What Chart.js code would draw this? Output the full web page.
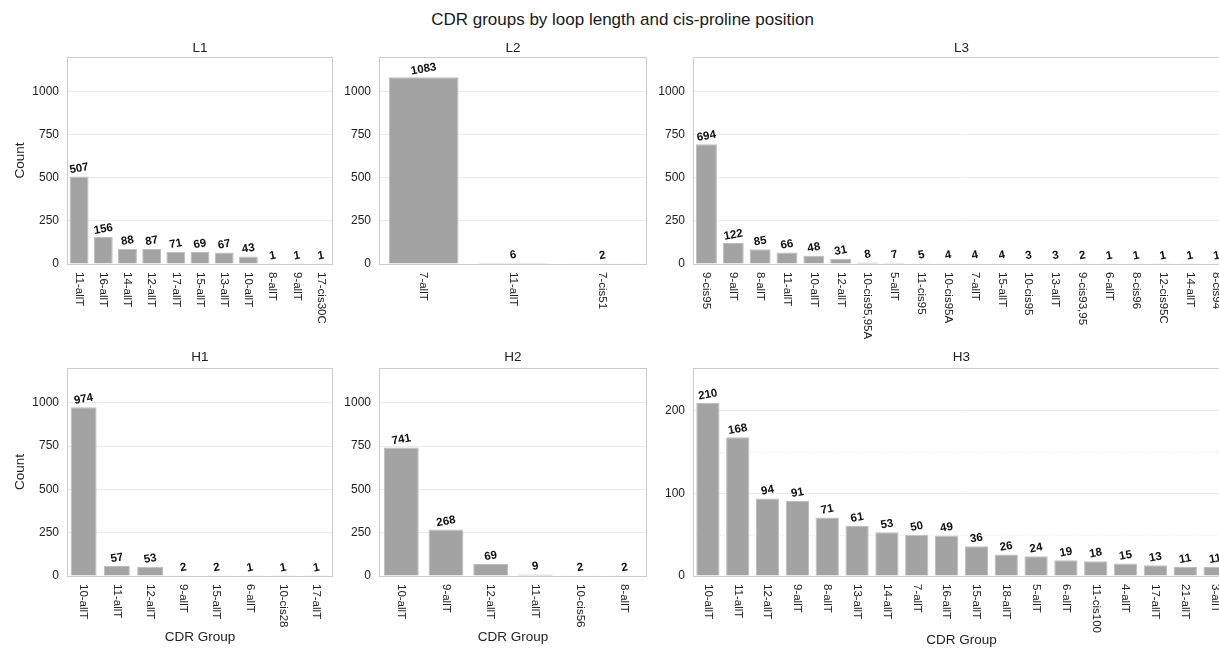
<!DOCTYPE html>
<html>
<head>
<meta charset="utf-8">
<script src="https://cdn.jsdelivr.net/npm/chart.js@4.4.1/dist/chart.umd.min.js"></script>
<style>
  html, body { margin: 0; padding: 0; background: #fff; overflow: hidden; }
  #fig { position: relative; width: 1245px; height: 648px; }
  #fig canvas { position: absolute; }
  #suptitle {
    position: absolute; left: 0; top: 10px; width: 1245px; text-align: center;
    font: 17px "Liberation Sans", Arial, Helvetica, sans-serif; color: #1a1a1a;
  }
</style>
</head>
<body>
<div id="fig">
  <div id="suptitle">CDR groups by loop length and cis-proline position</div>
  <canvas id="l1"></canvas>
  <canvas id="l2"></canvas>
  <canvas id="l3"></canvas>
  <canvas id="h1"></canvas>
  <canvas id="h2"></canvas>
  <canvas id="h3"></canvas>
</div>
<script>
'use strict';

// --- data ---
var l1Groups = ['11-allT', '16-allT', '14-allT', '12-allT', '17-allT', '15-allT', '13-allT', '10-allT', '8-allT', '9-allT', '17-cis30C'];
var l1Counts = [507, 156, 88, 87, 71, 69, 67, 43, 1, 1, 1];

var l2Groups = ['7-allT', '11-allT', '7-cis51'];
var l2Counts = [1083, 6, 2];

var l3Groups = ['9-cis95', '9-allT', '8-allT', '11-allT', '10-allT', '12-allT', '10-cis95,95A', '5-allT', '11-cis95', '10-cis95A',
                '7-allT', '15-allT', '10-cis95', '13-allT', '9-cis93,95', '6-allT', '8-cis96', '12-cis95C', '14-allT', '8-cis94'];
var l3Counts = [694, 122, 85, 66, 48, 31, 8, 7, 5, 4, 4, 4, 3, 3, 2, 1, 1, 1, 1, 1];

var h1Groups = ['10-allT', '11-allT', '12-allT', '9-allT', '15-allT', '6-allT', '10-cis28', '17-allT'];
var h1Counts = [974, 57, 53, 2, 2, 1, 1, 1];

var h2Groups = ['10-allT', '9-allT', '12-allT', '11-allT', '10-cis56', '8-allT'];
var h2Counts = [741, 268, 69, 9, 2, 2];

var h3Groups = ['10-allT', '11-allT', '12-allT', '9-allT', '8-allT', '13-allT', '14-allT', '7-allT', '16-allT', '15-allT',
                '18-allT', '5-allT', '6-allT', '11-cis100', '4-allT', '17-allT', '21-allT', '3-allT'];
var h3Counts = [210, 168, 94, 91, 71, 61, 53, 50, 49, 36, 26, 24, 19, 18, 15, 13, 11, 11];

// tick labels / limits
var countTicks = [0, 250, 500, 750, 1000];
var countMax = 1200;
var h3Ticks = [0, 100, 200];
var h3MinorTicks = [50, 150];
var h3Max = 252;

// --- styling ---
var FONT = '"Liberation Sans", Arial, Helvetica, sans-serif';
var TEXT = '#222222';
var BAR = '#a3a3a3';
var FRAME = '#cccccc';
var GRID = '#ebebeb';

Chart.defaults.font.family = FONT;
Chart.defaults.color = TEXT;

// frame round the plot area + dotted minor lines
var framePlugin = {
  id: 'frame',
  beforeDatasetsDraw: function (chart) {
    var ctx = chart.ctx, a = chart.chartArea, y = chart.scales.y;
    var minor = chart.options.plugins.frame.minor || [];
    ctx.save();
    ctx.strokeStyle = '#e6e6e6';
    ctx.lineWidth = 1;
    ctx.setLineDash([1, 2]);
    minor.forEach(function (v) {
      var py = Math.round(y.getPixelForValue(v)) + 0.5;
      ctx.beginPath();
      ctx.moveTo(a.left, py);
      ctx.lineTo(a.right, py);
      ctx.stroke();
    });
    ctx.setLineDash([]);
    ctx.strokeStyle = FRAME;
    ctx.strokeRect(Math.round(a.left) + 0.5, Math.round(a.top) + 0.5,
                   Math.round(a.right - a.left) - 1, Math.round(a.bottom - a.top));
    ctx.restore();
  }
};

// value labels above bars, slightly tilted
var valuePlugin = {
  id: 'values',
  afterDatasetsDraw: function (chart) {
    var ctx = chart.ctx;
    var values = chart.data.datasets[0].data;
    ctx.save();
    ctx.font = 'bold 11.5px ' + FONT;
    ctx.fillStyle = '#111111';
    ctx.textAlign = 'center';
    ctx.textBaseline = 'middle';
    chart.getDatasetMeta(0).data.forEach(function (bar, i) {
      ctx.save();
      ctx.translate(bar.x, bar.y - 8);
      ctx.rotate(-10 * Math.PI / 180);
      ctx.fillText(String(values[i]), 0, 0);
      ctx.restore();
    });
    ctx.restore();
  }
};

// category labels rotated to read top-to-bottom
var xLabelPlugin = {
  id: 'xlabels',
  afterDraw: function (chart) {
    var ctx = chart.ctx, a = chart.chartArea, xs = chart.scales.x;
    ctx.save();
    ctx.font = '11.5px ' + FONT;
    ctx.fillStyle = TEXT;
    ctx.textAlign = 'left';
    ctx.textBaseline = 'middle';
    chart.data.labels.forEach(function (lab, i) {
      ctx.save();
      ctx.translate(xs.getPixelForValue(i), a.bottom + 8);
      ctx.rotate(Math.PI / 2);
      ctx.fillText(lab, 0, 0);
      ctx.restore();
    });
    ctx.restore();
  }
};

function makePanel(p) {
  var canvas = document.getElementById(p.id);
  canvas.width = p.width;
  canvas.height = p.height;
  canvas.style.left = p.left + 'px';
  canvas.style.top = p.top + 'px';

  return new Chart(canvas.getContext('2d'), {
    type: 'bar',
    data: {
      labels: p.groups,
      datasets: [{
        data: p.counts,
        backgroundColor: BAR,
        borderColor: '#bdbdbd',
        borderWidth: 1,
        barPercentage: 0.78,
        categoryPercentage: 1
      }]
    },
    options: {
      responsive: false,
      animation: false,
      layout: { padding: { left: 0, right: p.padRight, top: 0, bottom: 0 } },
      plugins: {
        legend: { display: false },
        tooltip: { enabled: false },
        title: {
          display: true,
          text: p.title,
          fullSize: false,
          color: TEXT,
          font: { size: 13.5, weight: 'normal' },
          padding: { top: 6, bottom: p.titleGap }
        },
        frame: { minor: p.minor || [] }
      },
      scales: {
        x: {
          type: 'category',
          grid: { display: false },
          border: { display: false },
          ticks: { display: false },
          title: {
            display: !!p.xTitle,
            text: 'CDR Group',
            font: { size: 13.5 },
            padding: { top: 0, bottom: p.xTitlePad || 0 }
          },
          afterFit: function (s) { s.height = p.xAxisH; }
        },
        y: {
          min: 0,
          max: p.yMax,
          grid: { color: GRID, drawTicks: false },
          border: { display: false },
          ticks: {
            font: { size: 12 },
            padding: 8,
            callback: function (v) { return String(v); }
          },
          afterBuildTicks: function (s) {
            s.ticks = p.yTicks.map(function (v) { return { value: v }; });
          },
          title: {
            display: !!p.yTitle,
            text: 'Count',
            font: { size: 13.5 },
            padding: { top: 12, bottom: 0 }
          },
          afterFit: function (s) { s.width = p.yAxisW; }
        }
      }
    },
    plugins: [framePlugin, valuePlugin, xLabelPlugin]
  });
}

// row 1: L chains
makePanel({ id: 'l1', title: 'L1', groups: l1Groups, counts: l1Counts, yTicks: countTicks, yMax: countMax,
            left: 0, top: 34, width: 340, height: 312, yAxisW: 67, padRight: 7, xAxisH: 82, titleGap: 0.8, yTitle: true });
makePanel({ id: 'l2', title: 'L2', groups: l2Groups, counts: l2Counts, yTicks: countTicks, yMax: countMax,
            left: 340, top: 34, width: 312, height: 312, yAxisW: 39, padRight: 5, xAxisH: 82, titleGap: 0.8 });
makePanel({ id: 'l3', title: 'L3', groups: l3Groups, counts: l3Counts, yTicks: countTicks, yMax: countMax,
            left: 652, top: 34, width: 590, height: 312, yAxisW: 41, padRight: 12, xAxisH: 82, titleGap: 0.8 });

// row 2: H chains
makePanel({ id: 'h1', title: 'H1', groups: h1Groups, counts: h1Counts, yTicks: countTicks, yMax: countMax,
            left: 0, top: 343, width: 340, height: 305, yAxisW: 67, padRight: 7, xAxisH: 72, titleGap: 2.8,
            yTitle: true, xTitle: true, xTitlePad: 3 });
makePanel({ id: 'h2', title: 'H2', groups: h2Groups, counts: h2Counts, yTicks: countTicks, yMax: countMax,
            left: 340, top: 343, width: 312, height: 305, yAxisW: 39, padRight: 5, xAxisH: 72, titleGap: 2.8,
            xTitle: true, xTitlePad: 3 });
makePanel({ id: 'h3', title: 'H3', groups: h3Groups, counts: h3Counts, yTicks: h3Ticks, yMax: h3Max, minor: h3MinorTicks,
            left: 652, top: 343, width: 590, height: 305, yAxisW: 41, padRight: 12, xAxisH: 72, titleGap: 2.8,
            xTitle: true, xTitlePad: 0 });
</script>
</body>
</html>
